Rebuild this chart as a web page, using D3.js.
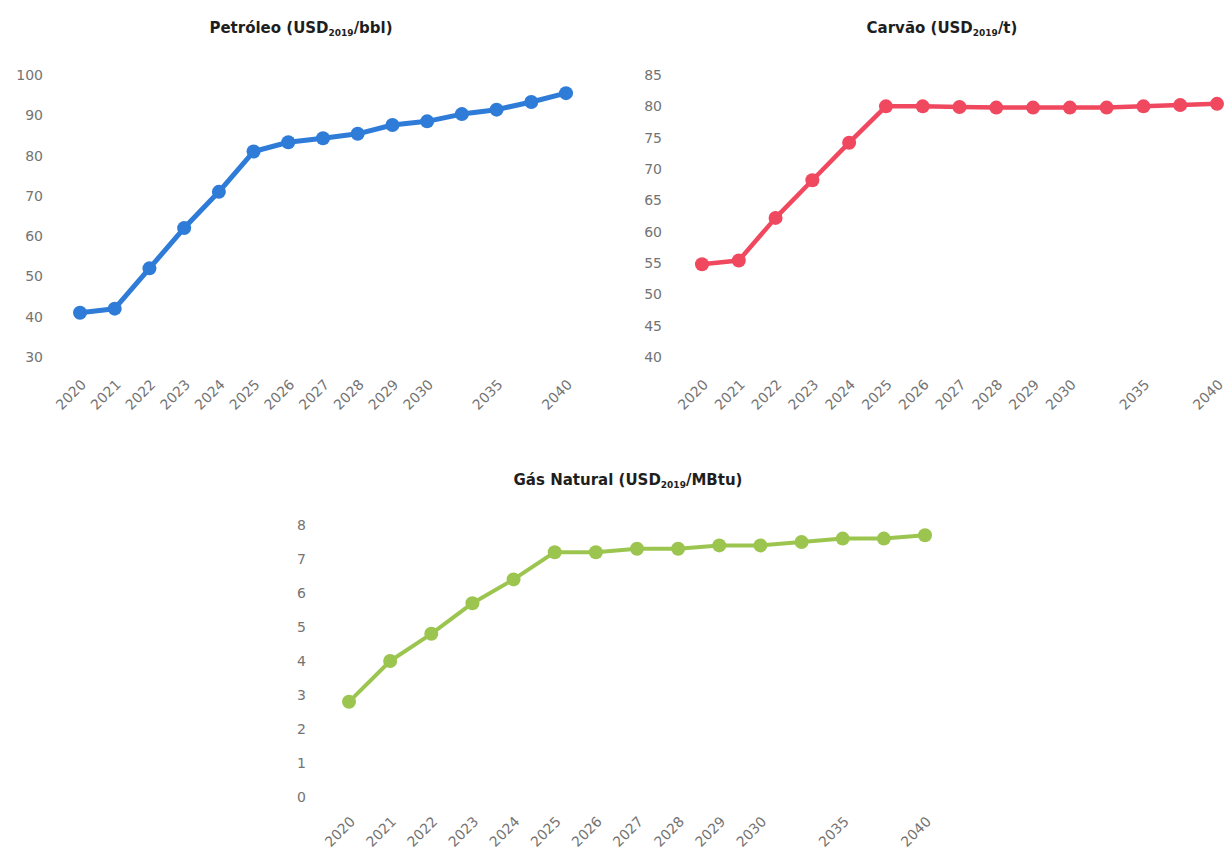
<!DOCTYPE html>
<html>
<head>
<meta charset="utf-8">
<script src="https://cdn.jsdelivr.net/npm/d3@7/dist/d3.min.js"></script>
<style>
  html, body { margin: 0; padding: 0; background: #fff; }
  svg { display: block; }
  .tick text { font-family: "DejaVu Sans", sans-serif; fill: #737373; }
  .title { font-family: "DejaVu Sans", sans-serif; font-weight: bold; fill: #1e1e1e; }
</style>
</head>
<body>
<svg id="chart" width="1225" height="859"></svg>
<script>
// Horizon positions (15 points); only some of them carry a label
const periods = d3.range(15);
const periodLabels = ["2020", "2021", "2022", "2023", "2024", "2025", "2026", "2027",
                      "2028", "2029", "2030", "", "2035", "", "2040"];

// Price projections
const petroleo = [41, 42, 52, 62, 71, 81, 83.3, 84.3, 85.4, 87.6, 88.5, 90.3, 91.4, 93.3, 95.5];
const carvao   = [54.8, 55.4, 62.2, 68.2, 74.2, 80.0, 80.0, 79.9, 79.8, 79.8, 79.8, 79.8, 80.0, 80.2, 80.4];
const gasNatural = [2.8, 4.0, 4.8, 5.7, 6.4, 7.2, 7.2, 7.3, 7.3, 7.4, 7.4, 7.5, 7.6, 7.6, 7.7];

// Y-axis tick values
const petroleoTicks = d3.range(30, 101, 10);
const carvaoTicks = d3.range(40, 86, 5);
const gasTicks = d3.range(0, 9, 1);

const svg = d3.select("#chart");

const panels = [
  {
    title: ["Petróleo (USD", "2019", "/bbl)"], titleX: 301, titleY: 33,
    values: petroleo, ticks: petroleoTicks, domain: [30, 100],
    xRange: [80, 566], yRange: [357, 75], yAxisX: 43, xAxisY: 382,
    color: "#2f7bd8", lineWidth: 5, r: 7
  },
  {
    title: ["Carvão (USD", "2019", "/t)"], titleX: 942, titleY: 33,
    values: carvao, ticks: carvaoTicks, domain: [40, 85],
    xRange: [702, 1217], yRange: [357, 75], yAxisX: 662, xAxisY: 382,
    color: "#f0485f", lineWidth: 4.5, r: 7
  },
  {
    title: ["Gás Natural (USD", "2019", "/MBtu)"], titleX: 628, titleY: 485,
    values: gasNatural, ticks: gasTicks, domain: [0, 8],
    xRange: [349, 925], yRange: [797, 525], yAxisX: 306, xAxisY: 819,
    color: "#9cc54f", lineWidth: 4, r: 7
  }
];

panels.forEach(p => {
  const x = d3.scalePoint().domain(periods).range(p.xRange);
  const y = d3.scaleLinear().domain(p.domain).range(p.yRange);

  // title with subscript base year
  const t = svg.append("text").attr("class", "title")
    .attr("x", p.titleX).attr("y", p.titleY)
    .attr("text-anchor", "middle").style("font-size", "15px");
  t.append("tspan").text(p.title[0]);
  t.append("tspan").text(p.title[1]).attr("dy", 3).style("font-size", "9px");
  t.append("tspan").text(p.title[2]).attr("dy", -3);

  // y axis (labels only)
  const ya = svg.append("g")
    .attr("transform", `translate(${p.yAxisX},0)`)
    .call(d3.axisLeft(y).tickValues(p.ticks).tickSize(0).tickPadding(0).tickFormat(d3.format("d")));
  ya.select(".domain").remove();
  ya.selectAll(".tick text").style("font-size", "14px");

  // x axis (rotated labels only)
  const xa = svg.append("g")
    .attr("transform", `translate(3,${p.xAxisY})`)
    .call(d3.axisBottom(x).tickSize(0).tickFormat(i => periodLabels[i]));
  xa.select(".domain").remove();
  xa.selectAll(".tick text")
    .attr("x", 0).attr("y", 0).attr("dy", "0.35em")
    .attr("transform", "rotate(-45)")
    .style("text-anchor", "end")
    .style("font-size", "14px");

  // line and markers
  const line = d3.line().x((d, i) => x(i)).y(d => y(d));
  svg.append("path").datum(p.values)
    .attr("d", line)
    .attr("fill", "none")
    .attr("stroke", p.color)
    .attr("stroke-width", p.lineWidth)
    .attr("stroke-linejoin", "round")
    .attr("stroke-linecap", "round");

  svg.append("g").selectAll("circle")
    .data(p.values)
    .join("circle")
    .attr("cx", (d, i) => x(i))
    .attr("cy", d => y(d))
    .attr("r", p.r)
    .attr("fill", p.color);
});
</script>
</body>
</html>
